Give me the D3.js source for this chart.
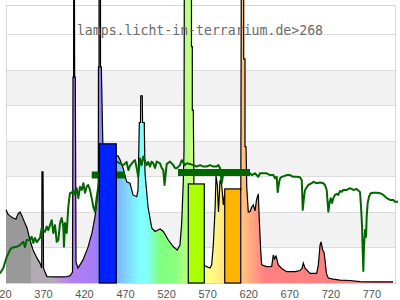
<!DOCTYPE html>
<html>
<head>
<meta charset="utf-8">
<script src="https://cdn.jsdelivr.net/npm/d3@7"></script>
<style>
  html, body { margin: 0; padding: 0; background: #fff; }
  svg { display: block; }
</style>
</head>
<body>
<svg id="chart"></svg>
<script>
// tick labels on the wavelength axis
const tickNm = [320, 370, 420, 470, 520, 570, 620, 670, 720, 770];

// lamp spectrum: wavelength (nm) and relative value
const specNm = [
  325, 327.4, 329.9, 333.5, 337.2, 339.6, 342.1, 344.5, 346.9, 350.6,
  354.2, 357.9, 362.8, 366.4, 368.5, 368.8, 370.1, 370.7, 372.5, 374.9,
  384.7, 396.9, 402.9, 406.0, 406.6, 407.3, 407.5, 408.3, 408.6, 409.4,
  410.3, 412.7, 415.1, 418.8, 424.9, 429.7, 433.4, 435.8, 437.4, 437.6,
  438.3, 438.3, 440.1, 440.1, 441.1, 443.1, 459.6, 461.4, 463.9, 467.5,
  472.0, 476.0, 479.7, 484.2, 485.8, 487.4, 488.8, 489.1, 491.0, 491.3,
  493.4, 494.3, 498.0, 502.5, 506.5, 512.6, 516.6, 522.7, 528.8, 533.6,
  536.9, 539.0, 541.0, 541.8, 542.2, 550.9, 550.9, 551.9, 551.9, 553.1,
  554.0, 556.4, 566.2, 569.4, 573.5, 575.5, 577.5, 579.6, 580.8, 582.4,
  583.8, 585.7, 587.7, 589.7, 591.1, 600.2, 610.0, 611.0, 611.6, 614.5,
  614.5, 616.1, 616.1, 617.3, 617.7, 618.2, 620.1, 622.2, 624.3, 626.2,
  628.3, 630.1, 632.3, 633.5, 635.2, 636.4, 642.5, 648.6, 650.6, 652.0,
  653.9, 656.7, 660.8, 666.9, 677.0, 683.1, 685.5, 687.1, 689.2, 691.2,
  695.3, 703.4, 705.4, 707.5, 708.7, 710.7, 712.3, 713.5, 715.4, 717.6,
  723.6, 731.8, 744.0, 756.2, 772.0, 796.4
];
const specVal = [
  2.06, 1.94, 1.89, 1.83, 1.80, 1.94, 2.00, 1.89, 1.75, 1.55,
  1.21, 0.93, 0.70, 0.56, 0.42, 3.13, 3.13, 0.42, 0.31, 0.18,
  0.17, 0.17, 0.20, 0.31, 5.80, 5.80, 9, 9, 5.80, 5.80,
  0.59, 0.42, 0.51, 0.65, 1.01, 1.41, 1.86, 2.34, 2.62, 6.09,
  6.09, 9, 9, 6.09, 6.09, 3.75, 3.58, 3.58, 3.47, 3.24,
  2.85, 2.81, 2.48, 2.43, 2.62, 4.52, 4.52, 5.27, 5.27, 4.52,
  4.52, 3.10, 2.14, 1.55, 1.45, 1.52, 1.45, 1.21, 1.02, 0.93,
  1.07, 1.69, 2.90, 3.75, 9, 9, 6.66, 6.66, 4.87, 4.87,
  2.51, 0.79, 0.51, 0.46, 0.42, 0.51, 1.07, 2.06, 3.01, 2.76,
  2.00, 2.90, 2.76, 2.20, 2.48, 2.34, 2.62, 2.62, 9, 9,
  6.31, 6.31, 3.84, 3.84, 3.38, 2.71, 2.00, 2.01, 2.14, 2.20,
  2.03, 2.34, 2.51, 1.78, 0.93, 0.51, 0.46, 0.47, 0.79, 0.68,
  0.76, 0.51, 0.41, 0.32, 0.32, 0.35, 0.41, 0.56, 0.42, 0.37,
  0.27, 0.27, 0.51, 1.07, 1.16, 0.93, 0.87, 0.65, 0.25, 0.14,
  0.11, 0.08, 0.07, 0.04, 0.03, 0.03
];

// green reference curve
const refNm = [
  317.7, 321.7, 325.9, 329.9, 331.9, 338.0, 342.1, 346.1, 348.1, 350.2,
  354.2, 356.3, 358.3, 360.3, 362.4, 364.3, 366.4, 368.5, 370.4, 372.5,
  374.6, 376.5, 378.6, 380.7, 382.6, 384.7, 386.8, 388.7, 390.8, 392.8,
  394.8, 395.6, 396.9, 398.9, 400.9, 402.9, 405.0, 407.0, 409.0, 411.1,
  413.1, 415.1, 417.2, 419.2, 421.2, 423.3, 425.2, 427.3, 429.4, 431.3,
  433.4, 435.5, 437.4, 439.5, 459.8, 463.9, 467.9, 472.0, 474.0, 476.0,
  480.1, 482.1, 484.2, 486.1, 488.2, 490.3, 492.2, 496.4, 498.3, 500.4,
  502.5, 504.4, 506.5, 508.6, 512.6, 514.6, 516.6, 518.1, 520.7, 524.8,
  528.8, 530.8, 532.9, 536.9, 539.0, 543.0, 545.1, 549.1, 553.1, 557.3,
  561.3, 565.3, 569.4, 573.5, 577.5, 581.6, 583.6, 585.7, 587.7, 589.7,
  593.8, 601.9, 610.0, 618.2, 622.2, 624.3, 628.3, 632.3, 634.4, 638.4,
  642.5, 646.6, 650.6, 652.6, 654.7, 655.9, 657.7, 658.9, 660.9, 666.9,
  670.9, 674.9, 679.1, 683.1, 685.2, 686.4, 688.0, 689.2, 691.2, 693.2,
  697.3, 699.3, 703.4, 707.5, 711.5, 713.5, 715.6, 717.6, 719.0, 720.5,
  722.1, 723.6, 725.7, 727.8, 729.7, 731.8, 733.9, 735.8, 740.0, 744.0,
  748.0, 752.1, 756.2, 757.4, 758.6, 759.4, 760.2, 761.0, 762.3, 763.5,
  764.3, 765.5, 767.1, 769.2, 772.4, 776.5, 780.5, 784.6, 788.7, 792.7,
  796.7, 798.8, 802.5
];
const refVal = [
  0.27, 0.42, 0.74, 0.93, 0.99, 1.02, 1.07, 1.16, 1.01, 1.21,
  1.21, 1.30, 1.13, 1.27, 1.15, 1.21, 1.27, 1.55, 1.49, 1.44,
  1.59, 1.49, 1.63, 1.77, 1.41, 1.63, 1.16, 1.21, 1.69, 1.83,
  1.59, 1.02, 1.69, 1.41, 2.15, 2.53, 2.54, 2.62, 2.48, 2.67,
  2.39, 2.71, 2.62, 2.81, 2.54, 2.71, 2.76, 2.62, 2.39, 2.15,
  2.01, 2.43, 2.71, 3.09, 3.42, 3.37, 3.32, 3.41, 3.18, 3.30,
  3.42, 3.46, 3.24, 2.99, 3.51, 3.32, 3.56, 3.32, 3.41, 3.28,
  3.42, 3.37, 3.24, 3.42, 3.37, 3.24, 3.18, 2.76, 3.35, 3.42,
  3.32, 3.24, 3.23, 3.32, 3.46, 3.32, 3.37, 3.35, 3.32, 3.28,
  3.32, 3.28, 3.28, 3.32, 3.28, 3.28, 3.32, 3.24, 2.81, 3.09,
  3.18, 3.18, 3.15, 3.14, 3.09, 3.04, 3.09, 2.99, 3.09, 3.09,
  3.09, 3.04, 3.04, 2.95, 2.99, 2.56, 2.85, 2.95, 2.99, 3.04,
  3.04, 2.99, 2.99, 2.98, 2.90, 2.06, 2.43, 2.62, 2.69, 2.76,
  2.81, 2.85, 2.81, 2.83, 2.81, 2.76, 2.62, 2.01, 2.25, 2.39,
  2.25, 2.39, 2.48, 2.51, 2.48, 2.59, 2.57, 2.62, 2.62, 2.67,
  2.62, 2.65, 2.56, 2.15, 1.63, 0.93, 0.34, 1.02, 1.49, 1.30,
  1.87, 2.25, 2.43, 2.53, 2.54, 2.54, 2.53, 2.48, 2.39, 2.34,
  2.34, 2.29, 2.29
];

// dense (thick) stretches of the reference curve
const blockFrom = [429.4, 534.5];
const blockTo = [469.9, 622.2];
const blockVal = [3.04, 3.11];

// colour band bars
const barFrom = [438.6, 547.0, 591.4];
const barTo = [459.3, 566.5, 610.9];
const barVal = [3.92, 2.79, 2.65];

const barColor = ["#0022ff", "#aaff00", "#ffb400"];
// fill colours along the spectrum
const gradStops = [
  [325, "#999999"], [355, "#999999"], [355, "#b3abb3"], [385, "#b3abb3"],
  [386, "#bb9ad6"], [405, "#b47ef0"], [432, "#a67df8"], [438, "#8c84ff"],
  [460, "#80b4ff"], [488, "#80ffff"], [496, "#80ffff"], [512, "#80ff80"],
  [530, "#88ff80"], [548, "#c0ff80"], [572, "#ffff80"], [590, "#ffe680"],
  [615, "#ffbf80"], [640, "#ff8080"], [800, "#ff8080"]
];

const width = 400, height = 300;
const svg = d3.select("#chart").attr("width", width).attr("height", height);

const x = d3.scaleLinear().domain([325, 800]).range([6, 396]);
const y = d3.scaleLinear().domain([0, 7.83]).range([283, 5]);

// background bands + grid
const bands = [1, 3, 5];
svg.append("g").selectAll("rect").data(bands).enter().append("rect")
  .attr("x", x(325)).attr("width", x(800) - x(325))
  .attr("y", d => y(d + 1)).attr("height", d => y(d) - y(d + 1))
  .attr("fill", "#f2f2f2");

svg.append("g").selectAll("line").data(d3.range(1, 8)).enter().append("line")
  .attr("x1", x(325)).attr("x2", x(800))
  .attr("y1", d => Math.round(y(d)) + 0.5).attr("y2", d => Math.round(y(d)) + 0.5)
  .attr("stroke", "#dcdcdc");

svg.append("rect")
  .attr("x", x(325) + 0.5).attr("y", y(7.83) + 0.5)
  .attr("width", x(800) - x(325) - 1).attr("height", y(0) - y(7.83))
  .attr("fill", "none").attr("stroke", "#d8d8d8");

// gradient
const grad = svg.append("defs").append("linearGradient")
  .attr("id", "spec").attr("gradientUnits", "userSpaceOnUse")
  .attr("x1", x(325)).attr("x2", x(800)).attr("y1", 0).attr("y2", 0);
grad.selectAll("stop").data(gradStops).enter().append("stop")
  .attr("offset", d => (d[0] - 325) / 475)
  .attr("stop-color", d => d[1]);

const spec = specNm.map((n, i) => [n, specVal[i]]);
const area = d3.area().x(d => x(d[0])).y0(y(0)).y1(d => y(d[1]));
const line = d3.line().x(d => x(d[0])).y(d => y(d[1]));

svg.append("path").datum(spec).attr("d", area).attr("fill", "url(#spec)");
svg.append("path").datum(spec).attr("d", line)
  .attr("fill", "none").attr("stroke", "#000").attr("stroke-width", 1.2);

// reference curve
const ref = refNm.map((n, i) => [n, refVal[i]]);
svg.append("path").datum(ref).attr("d", line)
  .attr("fill", "none").attr("stroke", "#006600").attr("stroke-width", 2)
  .attr("stroke-linejoin", "round");

svg.append("g").selectAll("line").data(blockFrom).enter().append("line")
  .attr("x1", d => x(d)).attr("x2", (d, i) => x(blockTo[i]))
  .attr("y1", (d, i) => y(blockVal[i])).attr("y2", (d, i) => y(blockVal[i]))
  .attr("stroke", "#006600").attr("stroke-width", 7);

// bars
svg.append("g").selectAll("rect").data(barFrom).enter().append("rect")
  .attr("x", d => x(d)).attr("width", (d, i) => x(barTo[i]) - x(d))
  .attr("y", (d, i) => y(barVal[i])).attr("height", (d, i) => y(0) - y(barVal[i]))
  .attr("fill", (d, i) => barColor[i])
  .attr("stroke", "#000").attr("stroke-width", 1.2);

// x axis labels
const axis = svg.append("g").attr("transform", `translate(0,${y(0)})`)
  .call(d3.axisBottom(x).tickValues(tickNm).tickSize(0).tickPadding(0));
axis.select(".domain").remove();
axis.selectAll("text")
  .attr("y", 14.5).attr("dy", 0)
  .attr("fill", "#555")
  .style("font-family", "'Liberation Sans', Arial, sans-serif")
  .style("font-size", "11px");

// title
svg.append("text")
  .attr("x", 200).attr("y", 35).attr("text-anchor", "middle")
  .attr("fill", "#6a6a6a")
  .style("font-family", "'DejaVu Sans Mono', monospace")
  .style("font-size", "13.2px")
  .text("lamps.licht-in-terrarium.de>268");
</script>
</body>
</html>
